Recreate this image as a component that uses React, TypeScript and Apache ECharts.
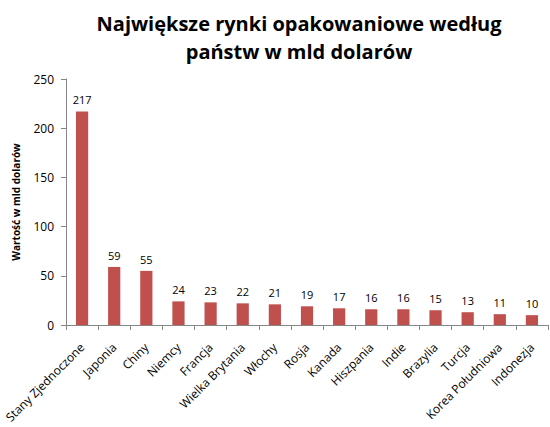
import { useEffect, useRef } from "react";
import * as echarts from "echarts";

const countries = [
  "Stany Zjednoczone",
  "Japonia",
  "Chiny",
  "Niemcy",
  "Francja",
  "Wielka Brytania",
  "Włochy",
  "Rosja",
  "Kanada",
  "Hiszpania",
  "Indie",
  "Brazylia",
  "Turcja",
  "Korea Południowa",
  "Indonezja",
];

const marketValues = [217, 59, 55, 24, 23, 22, 21, 19, 17, 16, 16, 15, 13, 11, 10];

const titleLines = ["Największe rynki opakowaniowe według", "państw w mld dolarów"];

const axisColor = "#868686";
const barColor = "#c0504d";
const font = "'Open Sans', 'Noto Sans', sans-serif";

export default function App() {
  const containerRef = useRef<HTMLDivElement | null>(null);

  useEffect(() => {
    if (!containerRef.current) {
      return;
    }

    document.body.style.margin = "0";
    const chart = echarts.init(containerRef.current, undefined, { renderer: "svg" });

    const option: echarts.EChartsOption = {
      animation: false,
      backgroundColor: "#ffffff",
      title: {
        text: titleLines.join("\n"),
        left: 294,
        top: 4,
        textAlign: "center",
        textStyle: {
          fontFamily: font,
          fontSize: 20,
          fontWeight: "bold",
          color: "#000000",
          lineHeight: 28,
        },
      },
      grid: {
        left: 66,
        right: 2,
        top: 79,
        bottom: 102,
      },
      xAxis: {
        type: "category",
        data: countries,
        axisLine: { lineStyle: { color: axisColor } },
        axisTick: { show: true, alignWithLabel: false, length: 5, lineStyle: { color: axisColor } },
        axisLabel: {
          rotate: 45,
          interval: 0,
          margin: 20,
          color: "#000000",
          fontFamily: font,
          fontSize: 12,
        },
      },
      yAxis: {
        type: "value",
        min: 0,
        max: 250,
        interval: 50,
        name: "Wartość w mld dolarów",
        nameLocation: "middle",
        nameGap: 45,
        nameTextStyle: {
          fontFamily: font,
          fontSize: 10,
          fontWeight: "bold",
          color: "#000000",
        },
        axisLine: { show: true, lineStyle: { color: axisColor } },
        axisTick: { show: true, length: 5, lineStyle: { color: axisColor } },
        splitLine: { show: false },
        axisLabel: {
          color: "#000000",
          fontFamily: font,
          fontSize: 12,
          margin: 12,
        },
      },
      series: [
        {
          type: "bar",
          data: marketValues,
          barWidth: "38%",
          itemStyle: { color: barColor },
          label: {
            show: true,
            position: "top",
            distance: 6,
            color: "#000000",
            fontFamily: font,
            fontSize: 11,
          },
        },
      ],
    };

    chart.setOption(option);

    return () => {
      chart.dispose();
    };
  }, []);

  return <div ref={containerRef} style={{ width: 550, height: 427 }} />;
}
